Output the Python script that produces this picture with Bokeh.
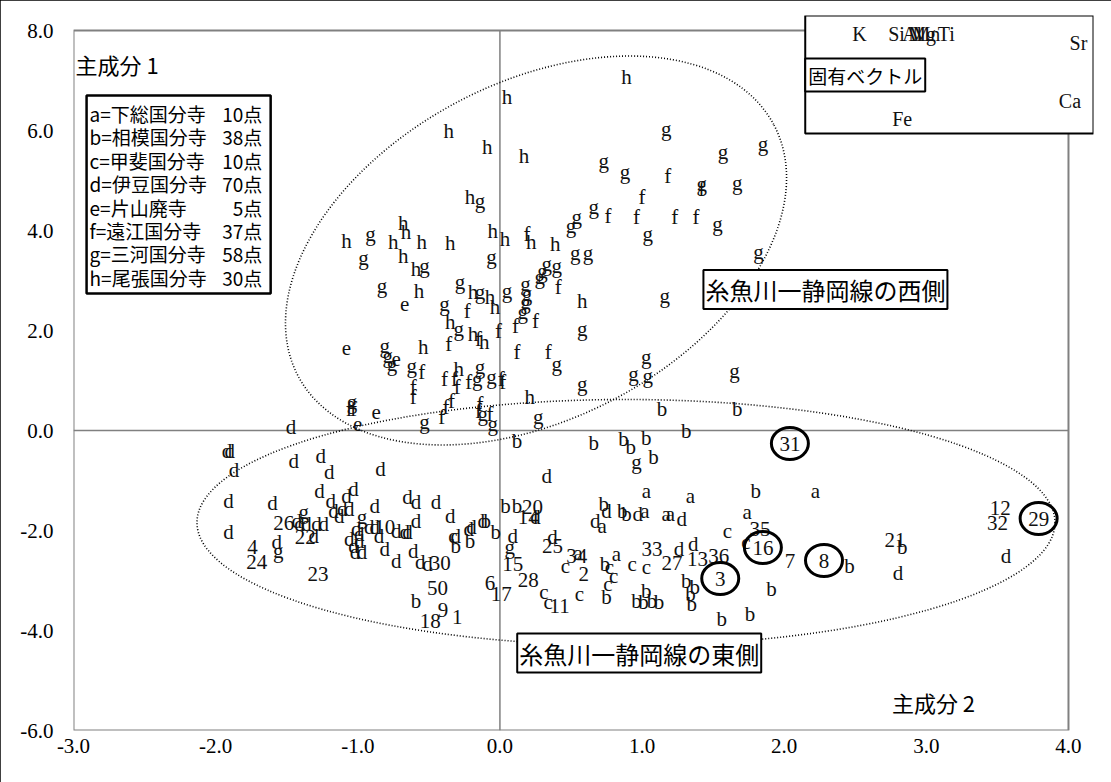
from bokeh.plotting import figure
from bokeh.models import Range1d, FixedTicker, PrintfTickFormatter, Label, BoxAnnotation
from bokeh.core.properties import value
from bokeh.embed import file_html
from bokeh.resources import INLINE

# ---------------- data ----------------
x_ticks = [-3, -2, -1, 0, 1, 2, 3, 4]
y_ticks = [-6, -4, -2, 0, 2, 4, 6, 8]

a_x = [1.03, 1.34, 2.22, 0.72, 1.02, 1.17, 1.20, 1.74, 0.82, 0.55]
a_y = [-1.20, -1.30, -1.20, -1.90, -1.60, -1.67, -1.67, -1.63, -2.47, -2.45]

b_x = [1.14, 1.67, 0.12, 0.66, 0.87, 0.92, 1.03, 1.31, 1.08, 1.80, 0.04, 0.12, 0.73, 0.86, 0.89,
       -0.31, -0.21, -0.10, -0.03, -0.59, 0.74, 0.75, 0.96, 1.01, 1.07, 1.12, 1.03, 1.31, 1.37,
       1.34, 1.35, 1.56, 1.76, 1.91, 2.46, 2.83]
b_y = [0.43, 0.43, -0.20, -0.25, -0.17, -0.33, -0.15, 0.00, -0.53, -1.20, -1.50, -1.50, -1.47,
       -1.60, -1.67, -2.30, -2.20, -1.80, -2.03, -3.40, -2.67, -3.33, -3.40, -3.43, -3.40, -3.43,
       -3.20, -3.00, -3.13, -3.27, -3.47, -3.77, -3.67, -3.17, -2.70, -2.33]

c_x = [0.46, 0.31, 0.34, 0.56, 0.77, 0.80, 0.76, 0.93, 1.03, 1.60, 1.73, -0.33]
c_y = [-2.70, -3.23, -3.43, -3.27, -2.73, -2.90, -3.07, -2.67, -2.73, -2.00, -2.23, -2.10]

d_x = [-1.47, -1.92, -1.90, -1.87, -1.45, -1.26, -1.20, -0.84, -1.27, -1.03, -1.19, -1.17, -1.13,
       -1.08, -1.06, -1.11, -0.88, -0.65, -0.59, -1.91, -1.60, -1.91, -1.43, -1.41, -1.36, -1.29,
       -1.24, -1.31, -1.57, -1.01, -0.99, -1.06, -0.99, -1.02, -0.97, -1.03, -0.92, -0.88, -0.85,
       -0.73, -0.67, -0.65, -0.81, -0.73, -0.61, -0.59, -0.45, -0.35, -0.31, -0.22, -0.20, -0.12,
       0.09, -0.56, -0.51, 0.33, 0.75, 0.67, 0.97, 1.28, 1.26, 1.36, 3.56, 2.80, 0.25, 0.37]
d_y = [0.07, -0.41, -0.41, -0.79, -0.60, -0.50, -0.83, -0.77, -1.20, -1.17, -1.40, -1.60, -1.70,
       -1.30, -1.57, -1.57, -1.50, -1.33, -1.43, -1.40, -1.45, -2.03, -1.80, -1.87, -1.87, -1.87,
       -1.87, -2.10, -2.23, -1.97, -2.07, -2.17, -2.20, -2.43, -2.43, -2.30, -1.93, -1.93, -2.10,
       -2.00, -2.03, -2.03, -2.37, -2.60, -2.40, -1.80, -1.43, -1.70, -2.10, -1.97, -1.93, -1.80,
       -2.10, -2.62, -2.66, -0.90, -1.60, -1.80, -1.67, -1.77, -2.37, -2.27, -2.50, -2.85, -1.72,
       -2.13]

e_x = [-1.08, -0.73, -0.87, -1.00, -0.67]
e_y = [1.65, 1.43, 0.37, 0.13, 2.53]

f_x = [1.18, 1.42, 1.00, 0.76, 0.96, 1.23, 1.38, 0.19, 0.41, 0.11, 0.25, 0.12, 0.34, 0.01, -0.23,
       -0.36, -0.15, -0.01, -0.55, -0.61, -0.61, -0.39, -0.32, -0.30, -0.22, 0.02, -0.34, -0.38,
       -0.41, -0.14, -0.15, -0.07, -1.06, -1.03]
f_y = [5.10, 4.83, 4.67, 4.30, 4.27, 4.27, 4.27, 3.93, 2.87, 2.10, 2.20, 1.57, 1.57, 1.03, 2.40,
       1.73, 1.83, 2.00, 1.17, 0.87, 0.67, 1.03, 1.03, 0.87, 0.97, 0.97, 0.60, 0.47, 0.27, 0.53,
       0.40, 0.33, 0.43, 0.43]

g_x = [1.17, 1.57, 1.85, 0.73, 0.88, 1.42, 1.67, 0.66, 0.54, 0.50, 1.04, 1.53, 1.82, 0.53, 0.62,
       0.33, 0.40, 0.30, 0.28, 0.05, 0.18, 0.19, 0.18, 0.16, 1.16, 0.58, 0.40, 1.03, 0.94, 1.04,
       1.65, 0.58, 0.27, -0.14, -0.91, -0.06, -0.96, -0.53, -0.83, -0.28, -0.14, -0.39, -0.29,
       -0.81, -0.79, -0.76, -0.62, -0.16, -0.14, -0.06, -0.12, -0.05, -0.53, -1.04, 0.96, -1.38,
       -1.56, -0.97, 0.07]
g_y = [6.03, 5.57, 5.73, 5.40, 5.17, 4.93, 4.95, 4.47, 4.27, 4.10, 3.93, 4.13, 3.57, 3.55, 3.55,
       3.33, 3.30, 3.20, 3.07, 2.80, 2.93, 2.73, 2.57, 2.37, 2.70, 2.03, 1.33, 1.48, 1.13, 1.10,
       1.20, 0.93, 0.27, 4.60, 3.93, 3.48, 3.45, 3.30, 2.90, 2.97, 2.77, 2.53, 2.03, 1.70, 1.50,
       1.33, 1.30, 1.03, 1.27, 1.07, 0.33, 0.13, 0.17, 0.57, -0.63, -1.63, -2.40, -1.73, -2.33]

h_x = [0.89, 0.05, -0.36, -0.09, 0.17, -0.21, -0.68, -0.66, -1.08, -0.75, -0.55, -0.35, -0.05,
       0.035, 0.22, 0.39, -0.68, -0.59, -0.57, -0.19, -0.07, -0.035, -0.35, -0.19, -0.11, -0.54,
       -0.29, 0.58, 0.21]
h_y = [7.07, 6.67, 6.00, 5.68, 5.50, 4.67, 4.15, 3.97, 3.80, 3.77, 3.77, 3.75, 4.00, 3.83, 3.77,
       3.73, 3.50, 3.23, 2.80, 2.77, 2.67, 2.47, 2.17, 1.93, 1.77, 1.68, 1.23, 2.60, 0.67]

num_labels = ["31", "16", "8", "3", "29", "35", "7", "12", "32", "21", "33", "27", "13", "36",
              "20", "14", "25", "34", "2", "28", "11", "15", "6", "17", "30", "50", "18", "9",
              "1", "10", "26", "22", "4", "24", "23"]
num_x = [2.04, 1.85, 2.28, 1.55, 3.79, 1.83, 2.04, 3.52, 3.50, 2.78, 1.07, 1.21, 1.39, 1.54,
         0.23, 0.20, 0.37, 0.54, 0.59, 0.20, 0.42, 0.09, -0.07, 0.01, -0.42, -0.44, -0.49, -0.40,
         -0.30, -0.81, -1.52, -1.37, -1.74, -1.71, -1.28]
num_y = [-0.26, -2.34, -2.60, -2.96, -1.76, -1.97, -2.60, -1.55, -1.85, -2.19, -2.37, -2.65,
         -2.57, -2.50, -1.52, -1.72, -2.30, -2.50, -2.87, -2.99, -3.50, -2.67, -3.05, -3.27,
         -2.65, -3.14, -3.80, -3.59, -3.72, -1.92, -1.85, -2.13, -2.32, -2.63, -2.87]
circled = ["31", "16", "8", "3", "29"]

legend_names = ["a=下総国分寺", "b=相模国分寺", "c=甲斐国分寺", "d=伊豆国分寺",
                "e=片山廃寺", "f=遠江国分寺", "g=三河国分寺", "h=尾張国分寺"]
legend_counts = ["10点", "38点", "10点", "70点", "5点", "37点", "58点", "30点"]

eig_labels = ["K", "Si", "Al", "Mg", "Mn", "Ti", "Sr", "Ca", "Fe"]
eig_x = [2.53, 2.79, 2.90, 2.97, 3.00, 3.14, 4.07, 4.01, 2.83]
eig_y = [7.94, 7.94, 7.94, 7.94, 7.94, 7.94, 7.76, 6.60, 6.24]

# ellipse (group outline) parameters
west_ell = dict(x=0.254, y=3.6, w=538, h=336, angle=0.485)
east_ell = dict(x=0.887, y=-1.84, w=858, h=246, angle=0.0)

# ---------------- figure ----------------
SERIF = "Liberation Serif"
JP = "Noto Sans CJK JP"
GRAY = "#808080"

# frame spans a little beyond the chart's [-3,4]x[-6,8] box so that the
# eigenvector inset (which sticks out of the chart box) can be drawn
p = figure(width=1111, height=782, x_range=Range1d(-3, 4.176), y_range=Range1d(-6, 8.30),
           output_backend="svg", toolbar_location=None,
           min_border_left=73, min_border_right=18, min_border_top=15, min_border_bottom=52)
p.styles = {"outline": "1px solid black", "outline-offset": "-1px"}
p.xgrid.visible = False
p.ygrid.visible = False
p.background_fill_color = "white"
p.border_fill_color = "white"
p.outline_line_color = None

for ax, ticks in ((p.xaxis, x_ticks), (p.yaxis, y_ticks)):
    ax.ticker = FixedTicker(ticks=ticks)
    ax.formatter = PrintfTickFormatter(format="%.1f")
    ax.axis_line_color = None
    ax.major_tick_line_color = None
    ax.minor_tick_line_color = None
    ax.major_label_text_font = SERIF
    ax.major_label_text_font_size = "21px"
    ax.major_label_text_color = "black"
p.xaxis.major_label_standoff = 2
p.yaxis.major_label_standoff = 14

# chart box and zero axes
p.quad(left=[x_ticks[0]], right=[x_ticks[-1]], bottom=[y_ticks[0]], top=[y_ticks[-1]],
       fill_color=None, line_color=GRAY, line_width=2)
p.segment(x0=[0, x_ticks[0]], y0=[y_ticks[0], 0], x1=[0, x_ticks[-1]], y1=[y_ticks[-1], 0],
          line_color=GRAY, line_width=1.5)

# group ellipses
for e in (west_ell, east_ell):
    p.ellipse(x=[e["x"]], y=[e["y"]], width=[e["w"]], height=[e["h"]], angle=[e["angle"]],
              width_units="screen", height_units="screen", fill_color=None,
              line_color="black", line_width=1.6, line_dash="1 2")

series = [("a", a_x, a_y), ("b", b_x, b_y), ("c", c_x, c_y), ("d", d_x, d_y),
          ("e", e_x, e_y), ("f", f_x, f_y), ("g", g_x, g_y), ("h", h_x, h_y)]
for code, xs, ys in series:
    p.text(x=xs, y=ys, text=[code] * len(xs), text_font=value(SERIF), text_font_size="21px",
           text_align="center", text_baseline="middle", text_color="#111111")

p.text(x=num_x, y=num_y, text=num_labels, text_font=value(SERIF), text_font_size="21px",
       text_align="center", text_baseline="middle", text_color="#111111")

cx = [num_x[num_labels.index(c)] for c in circled]
cy = [num_y[num_labels.index(c)] for c in circled]
p.ellipse(x=cx, y=cy, width=37, height=32, width_units="screen", height_units="screen",
          fill_color=None, line_color="black", line_width=3)

# legend box
p.add_layout(BoxAnnotation(left=-2.908, right=-1.613, top=6.70, bottom=2.74, fill_color="white",
                           fill_alpha=1.0, line_color="black", line_width=2.5, line_alpha=1.0))
for i, (nm, ct) in enumerate(zip(legend_names, legend_counts)):
    yy = (430 - (113 + 23.4 * i)) / 50.0
    p.add_layout(Label(x=-2.887, y=yy, text=nm, text_font=JP, text_font_size="19px",
                       text_align="left", text_baseline="middle", text_color="black"))
    p.add_layout(Label(x=-1.672, y=yy, text=ct, text_font=JP, text_font_size="19px",
                       text_align="right", text_baseline="middle", text_color="black"))

# axis captions
p.add_layout(Label(x=-2.986, y=7.34, text="主成分 1", text_font=JP, text_font_size="22px",
                   text_align="left", text_baseline="middle", text_color="black"))
p.add_layout(Label(x=3.05, y=-5.42, text="主成分 2", text_font=JP, text_font_size="22px",
                   text_align="center", text_baseline="middle", text_color="black"))

# region labels
for txt, lx, ly in (("糸魚川一静岡線の西側", 2.29, 2.82), ("糸魚川一静岡線の東側", 0.98, -4.45)):
    p.add_layout(Label(x=lx, y=ly, text=txt, text_font=JP, text_font_size="24px",
                       text_align="center", text_baseline="middle", text_color="black",
                       background_fill_color="white", border_line_color="black",
                       border_line_width=2, padding=2))

# eigenvector inset
p.add_layout(BoxAnnotation(left=2.148, right=4.176, top=8.30, bottom=5.94, fill_color="white",
                           fill_alpha=1.0, line_color="black", line_width=2, line_alpha=1.0))
for t, ex, ey in zip(eig_labels, eig_x, eig_y):
    p.add_layout(Label(x=ex, y=ey, text=t, text_font=SERIF, text_font_size="20px",
                       text_align="center", text_baseline="middle", text_color="#111111"))
p.add_layout(Label(x=2.57, y=7.11, text="固有ベクトル", text_font=JP, text_font_size="19px",
                   text_align="center", text_baseline="middle", text_color="black",
                   background_fill_color="white", border_line_color="black",
                   border_line_width=2, padding=3))

open("out.html", "w").write(file_html(p, INLINE))
